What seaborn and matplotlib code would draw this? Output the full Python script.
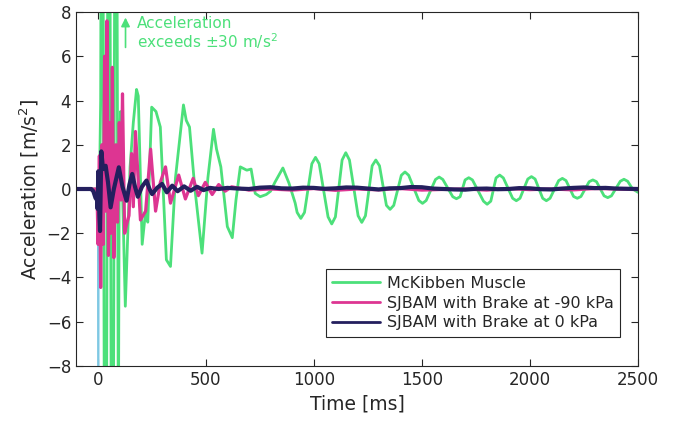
"""Step response acceleration: McKibben muscle vs SJBAM with brake."""

import matplotlib

matplotlib.use("Agg")
import matplotlib.pyplot as plt
import pandas as pd
import seaborn as sns

GREEN = "#4CE07A"
PINK = "#DD3592"
NAVY = "#241F5E"
BLUE = "#7EC8E3"

# McKibben muscle (values beyond +-8 are clipped; real peaks exceed +-30)
mck_t = [-100, -5, 3, 9, 14, 20, 36, 52, 68, 84, 96,
         100, 106, 128, 150, 165, 180, 188, 206, 222, 232, 250, 270, 290, 318,
         337, 360, 397, 410, 425, 450, 483, 510, 536, 550, 570, 600, 623, 640, 660,
         690, 710, 729, 752, 780, 800, 820, 857, 885, 914,
         923, 940, 957, 991, 1008, 1025, 1066, 1083, 1100, 1131, 1148, 1165,
         1205, 1222, 1239, 1270, 1287, 1304, 1336, 1353, 1370, 1405, 1422, 1439,
         1486, 1503, 1520, 1563, 1580, 1597, 1643, 1660, 1677, 1700, 1717, 1734,
         1785, 1802, 1819, 1843, 1860, 1877, 1920, 1937, 1954, 1990, 2007, 2024,
         2059, 2076, 2093, 2133, 2150, 2167, 2202, 2219, 2236, 2274, 2291, 2308,
         2343, 2360, 2377, 2418, 2435, 2452, 2475, 2500]
mck_a = [0.0, 0.0, -2.0, 0.5, 4.0, 30, -30, 30, -30, 30, -12,
         1.5, 3.5, -5.3, 1.0, 3.0, 4.5, 4.2, -2.5, -1.0, -1.5, 3.7, 3.5, 2.8,
         -3.2, -3.5, 0.5, 3.8, 3.1, 2.8, 0.0, -2.9, 0.5, 2.7, 1.8, 1.0, -1.7,
         -2.2, -0.5, 1.0, 0.85, 0.9, -0.2, -0.35, -0.25, -0.1, 0.3, 0.95, 0.27,
         -0.64,
         -1.06, -1.33, -1.06, 1.14, 1.43, 1.14, -1.26, -1.58, -1.26, 1.31, 1.64,
         1.31, -1.21, -1.51, -1.21, 1.05, 1.31, 1.05, -0.74, -0.92, -0.74, 0.62,
         0.77, 0.62, -0.52, -0.65, -0.52, 0.43, 0.54, 0.43, -0.35, -0.44, -0.35,
         0.41, 0.51, 0.41, -0.55, -0.69, -0.55, 0.50, 0.63, 0.50, -0.42, -0.53,
         -0.42, 0.45, 0.56, 0.45, -0.42, -0.53, -0.42, 0.38, 0.48, 0.38, -0.34,
         -0.42, -0.34, 0.33, 0.41, 0.33, -0.31, -0.39, -0.31, 0.35, 0.44, 0.35,
         0.0, -0.15]

# SJBAM with brake at -90 kPa
brk90_t = [-100, -10, -3, 2, 8, 14, 20, 26, 32, 37, 43, 50, 56, 62, 68, 75, 85,
           92, 100, 108, 115, 125, 134, 145, 157, 165, 175, 198, 222, 245, 268,
           290, 314, 337, 375, 406, 442, 466, 498, 530, 560, 590, 620, 700, 800,
           900, 1000, 1100, 1200, 1300, 1400, 1500, 1600, 1700, 1800, 1900, 2000,
           2100, 2200, 2300, 2400, 2500]
brk90_a = [0.0, 0.0, -0.2, -2.5, 1.5, -4.45, 2.0, -2.5, 6.0, -1.0, 7.6, -3.0,
           3.0, -2.0, 5.5, -3.1, 2.0, -1.5, 3.0, -0.5, 4.3, -2.0, -1.6, -1.2, 1.6,
           -0.8, 2.6, -1.4, -1.0, 1.8, -1.0, 0.3, 1.0, -0.64, 0.63, -0.45, 0.48,
           -0.3, 0.3, -0.25, 0.2, -0.1, 0.1, -0.05, 0.0, -0.05, 0.02, -0.06, 0.0,
           -0.04, 0.02, -0.05, -0.02, 0.0, -0.05, 0.02, -0.03, 0.0, -0.04, 0.02,
           0.0, -0.03]

# SJBAM with brake at 0 kPa
brk0_t = [-100, -30, -20, -10, -3, 0, 3, 8, 11, 17, 25, 37, 48, 60, 75, 98, 115,
          134, 147, 160, 173, 186, 205, 226, 240, 252, 275, 298, 320, 345, 370,
          400, 430, 460, 490, 520, 560, 600, 650, 700, 750, 800, 850, 900, 950,
          1000, 1050, 1100, 1150, 1200, 1250, 1300, 1350, 1400, 1450, 1500, 1550,
          1600, 1650, 1700, 1750, 1800, 1850, 1900, 1950, 2000, 2050, 2100, 2150,
          2200, 2250, 2300, 2350, 2400, 2450, 2500]
brk0_a = [0.0, 0.0, -0.1, -0.4, -0.5, -0.9, 0.8, -1.2, -1.9, 1.7, 0.9, 1.05, 0.3,
          -0.83, 0.0, 0.98, 0.1, -0.53, 0.2, 0.68, 0.1, -0.35, 0.1, 0.38, 0.0,
          -0.23, 0.05, 0.23, -0.15, 0.15, -0.1, 0.12, -0.08, 0.1, -0.05, 0.05,
          0.0, 0.05, 0.02, 0.0, 0.06, 0.08, 0.03, 0.02, 0.06, 0.05, 0.01, 0.03,
          0.07, 0.06, 0.02, -0.02, 0.03, 0.04, 0.09, 0.08, 0.02, 0.0, -0.02,
          -0.03, 0.01, 0.02, -0.01, 0.0, 0.04, 0.03, -0.01, -0.02, 0.02, 0.05,
          0.07, 0.04, 0.05, 0.02, 0.01, 0.0]

# thin raw trace visible only near t = 0
raw_t = [-100, 0, 3, 6]
raw_a = [0.0, 0.0, -30, 0.0]

SERIES = [
    ("McKibben Muscle", mck_t, mck_a, GREEN, 2.0),
    ("SJBAM with Brake at -90 kPa", brk90_t, brk90_a, PINK, 2.3),
    ("SJBAM with Brake at 0 kPa", brk0_t, brk0_a, NAVY, 3.0),
]

sns.set_style("ticks")
plt.rcParams["font.family"] = ["DejaVu Sans"]

fig = plt.figure(figsize=(6.74, 4.23), dpi=100)
ax = fig.add_axes([0.1128, 0.1348, 0.8338, 0.8368])

sns.lineplot(x=raw_t, y=raw_a, color=BLUE, linewidth=1.0, ax=ax, legend=False)
for label, t, a, color, lw in SERIES:
    df = pd.DataFrame({"t": t, "a": a})
    sns.lineplot(data=df, x="t", y="a", color=color, linewidth=lw, label=label,
                 ax=ax, sort=False)

ax.set_xlim(-100, 2500)
ax.set_ylim(-8, 8)
ax.set_xticks([0, 500, 1000, 1500, 2000, 2500])
ax.set_yticks(range(-8, 9, 2))
ax.tick_params(direction="in", top=True, right=True, labelsize=12,
               colors="#262626", length=5, width=0.8)
for spine in ax.spines.values():
    spine.set_visible(True)
    spine.set_color("#262626")
    spine.set_linewidth(0.8)
ax.set_xlabel("Time [ms]", fontsize=13.5, color="#262626")
ax.set_ylabel("Acceleration [m/s$^2$]", fontsize=13.5, color="#262626")

ax.annotate("", xy=(129, 7.75), xytext=(129, 6.4),
            arrowprops=dict(arrowstyle="-|>", color=GREEN, lw=1.2,
                            mutation_scale=13, shrinkA=0, shrinkB=0))
ax.text(182, 7.8, "Acceleration\nexceeds \u00b130 m/s$^2$", color=GREEN,
        fontsize=11, va="top", ha="left", linespacing=1.0)

leg = ax.legend(loc="lower right", bbox_to_anchor=(0.982, 0.06), fontsize=11.5,
                fancybox=False, framealpha=1, edgecolor="#262626",
                handlelength=3.0, borderpad=0.4, labelspacing=0.3,
                handletextpad=0.4)
leg.get_frame().set_linewidth(0.8)
for handle in leg.get_lines():
    handle.set_linewidth(2.0)

fig.savefig("out.png", dpi=100)
